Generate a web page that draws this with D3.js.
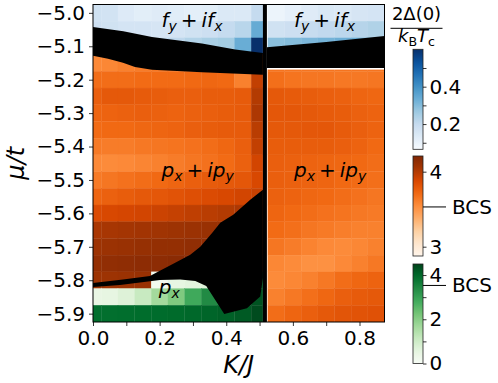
<!DOCTYPE html>
<html>
<head>
<meta charset="utf-8">
<script src="https://cdn.jsdelivr.net/npm/d3@7"></script>
<style>
  body { margin: 0; background: #fff; }
  svg { display: block; font-family: "DejaVu Sans", sans-serif; }
</style>
</head>
<body>
<svg id="chart" width="498" height="383"></svg>
<script>
'use strict';

// calculation grid
var kLeft = [0, 0.05, 0.1, 0.15, 0.2, 0.25, 0.3, 0.35, 0.4, 0.45, 0.5];
var kRight = [0.55, 0.6, 0.65, 0.7, 0.75, 0.8, 0.85];

// f_y + i f_x phase (Blues)
var fMu = [-5.0, -5.05, -5.1];
var fLeft = [
  [0.17, 0.165, 0.135, 0.12, 0.13, 0.125, 0.115, 0.12, 0.14, 0.14, 0.2],
  [0.18, 0.17, 0.16, 0.16, 0.155, 0.16, 0.17, 0.18, 0.2, 0.22, 0.34],
  [0.2, 0.2, 0.2, 0.2, 0.2, 0.21, 0.23, 0.245, 0.255, 0.335, 0.6]
];
var fRight = [
  [0.095, 0.11, 0.13, 0.145, 0.14, 0.155, 0.16],
  [0.17, 0.18, 0.195, 0.205, 0.215, 0.225, 0.235],
  [0.29, 0.3, 0.31, 0.32, 0.33, 0.335, 0.34]
];

// p_x + i p_y phase (Oranges)
var chiralMuLeft = [-5.15, -5.2, -5.25, -5.3, -5.35, -5.4, -5.45, -5.5, -5.55, -5.6, -5.65, -5.7, -5.75, -5.8];
var chiralLeft = [
  [3.56, 3.57, 3.6, 3.62, 3.64, 3.66, 3.68, 3.7, 3.72, 3.74, 3.9],
  [3.69, 3.69, 3.69, 3.7, 3.7, 3.7, 3.71, 3.72, 3.71, 3.6, 3.95],
  [3.76, 3.79, 3.79, 3.78, 3.77, 3.76, 3.76, 3.77, 3.77, 3.78, 4.0],
  [3.73, 3.74, 3.75, 3.76, 3.75, 3.74, 3.75, 3.76, 3.77, 3.78, 4.02],
  [3.7, 3.71, 3.71, 3.72, 3.73, 3.74, 3.76, 3.77, 3.78, 3.78, 3.98],
  [3.63, 3.62, 3.62, 3.64, 3.65, 3.66, 3.67, 3.69, 3.72, 3.76, 3.95],
  [3.56, 3.55, 3.56, 3.58, 3.6, 3.62, 3.65, 3.67, 3.7, 3.75, 3.9],
  [3.63, 3.65, 3.67, 3.69, 3.71, 3.73, 3.76, 3.78, 3.79, 3.8, 3.88],
  [3.73, 3.75, 3.77, 3.79, 3.8, 3.82, 3.84, 3.86, 3.88, 3.9, 3.93],
  [3.86, 3.88, 3.89, 3.9, 3.92, 3.94, 3.96, 3.98, 4.0, 4.02, 4.04],
  [4.03, 4.04, 4.05, 4.06, 4.07, 4.08, 4.09, 4.1, 4.1, 4.1, 4.1],
  [4.08, 4.09, 4.1, 4.11, 4.12, 4.12, 4.13, 4.13, 4.13, 4.13, 4.13],
  [4.12, 4.13, 4.14, 4.15, 4.15, 4.16, 4.16, 4.16, 4.16, 4.16, 4.16],
  [4.08, 4.08, 4.09, 4.1, null, null, null, null, null, null, null]
];
var chiralMuRight = [-5.15, -5.2, -5.25, -5.3, -5.35, -5.4, -5.45, -5.5, -5.55, -5.6, -5.65, -5.7, -5.75, -5.8, -5.85, -5.9];
var chiralRight = [
  [3.66, 3.66, 3.66, 3.66, 3.66, 3.66, 3.66],
  [3.68, 3.66, 3.65, 3.65, 3.64, 3.64, 3.65],
  [3.79, 3.78, 3.77, 3.76, 3.75, 3.73, 3.72],
  [3.8, 3.8, 3.79, 3.78, 3.77, 3.75, 3.74],
  [3.79, 3.79, 3.8, 3.8, 3.78, 3.76, 3.74],
  [3.77, 3.77, 3.77, 3.77, 3.76, 3.74, 3.71],
  [3.76, 3.75, 3.74, 3.73, 3.72, 3.71, 3.69],
  [3.76, 3.75, 3.74, 3.73, 3.71, 3.7, 3.68],
  [3.75, 3.74, 3.72, 3.71, 3.69, 3.67, 3.65],
  [3.73, 3.71, 3.69, 3.67, 3.66, 3.64, 3.63],
  [3.7, 3.68, 3.65, 3.63, 3.61, 3.6, 3.6],
  [3.65, 3.62, 3.59, 3.56, 3.55, 3.57, 3.6],
  [3.57, 3.55, 3.52, 3.52, 3.56, 3.6, 3.64],
  [3.55, 3.57, 3.6, 3.64, 3.69, 3.72, 3.74],
  [3.6, 3.64, 3.68, 3.72, 3.76, 3.78, 3.79],
  [3.69, 3.73, 3.76, 3.79, 3.81, 3.82, 3.83]
];

// p_x phase (Greens)
var pxMu = [-5.8, -5.85, -5.9];
var pxLeft = [
  [null, null, null, null, 0.15, 0.5, 0.6, 0.7, 1.0, 2.0, 4.3],
  [0.45, 0.5, 0.7, 1.1, 1.65, 2.1, 2.85, 3.4, 3.6, 3.8, 4.3],
  [3.9, 3.9, 3.92, 3.93, 3.95, 3.97, 4.0, 4.05, 4.1, 4.2, 4.4]
];

// black regions, [K/J, mu/t]
var bandLeft = [
  [0, -5.042], [0.091, -5.055], [0.177, -5.072], [0.327, -5.092], [0.427, -5.11], [0.51, -5.12],
  [0.51, -5.185], [0.327, -5.178], [0.177, -5.17], [0.126, -5.162], [0.09, -5.149], [0.045, -5.137], [0, -5.128]
];
var bandRight = [
  [0.522, -5.103], [0.7, -5.087], [0.875, -5.069], [0.875, -5.165], [0.522, -5.165]
];
var lowerBlob = [
  [0.51, -5.529], [0.51, -5.793], [0.502, -5.849], [0.462, -5.884], [0.394, -5.901],
  [0.367, -5.859], [0.34, -5.817], [0.307, -5.802], [0.262, -5.798], [0.201, -5.799],
  [0.141, -5.807], [0.081, -5.814], [0, -5.82], [0, -5.808], [0.09, -5.798],
  [0.171, -5.787], [0.195, -5.775], [0.241, -5.751], [0.292, -5.724], [0.322, -5.7],
  [0.358, -5.658], [0.382, -5.628], [0.421, -5.604], [0.472, -5.559]
];
var barK = [0.51, 0.522];

var bcs = 3.53;
var xTicks = [0, 0.1, 0.2, 0.3, 0.4, 0.5, 0.6, 0.7, 0.8];
var xTickLabels = ['0.0', '', '0.2', '', '0.4', '', '0.6', '', '0.8'];
var yTicks = [-5.0, -5.1, -5.2, -5.3, -5.4, -5.5, -5.6, -5.7, -5.8, -5.9];
var yTickLabels = ['\u22125.0', '\u22125.1', '\u22125.2', '\u22125.3', '\u22125.4', '\u22125.5', '\u22125.6', '\u22125.7', '\u22125.8', '\u22125.9'];
var blueTicks = [0.1, 0.2, 0.3, 0.4, 0.5];
var blueTickLabels = ['', '0.2', '', '0.4', ''];
var orangeTicks = [3, 4];
var orangeTickLabels = ['3', '4'];
var greenTicks = [0, 1, 2, 3, 4];
var greenTickLabels = ['0', '', '2', '', '4'];

var svg = d3.select('#chart');
var half = 0.025;
var fs = 20;

var x = d3.scaleLinear().domain([0, 0.875]).range([93, 384.5]);
var y = d3.scaleLinear().domain([-4.975, -5.925]).range([4.5, 322]);

var blues = d3.scaleSequential(d3.piecewise(d3.interpolateRgb, d3.schemeBlues[9])).domain([0.065, 0.6]);
var oranges = d3.scaleSequential(d3.piecewise(d3.interpolateRgb, d3.schemeOranges[9])).domain([2.876, 4.209]);
var greens = d3.scaleSequential(d3.piecewise(d3.interpolateRgb, d3.schemeGreens[9])).domain([0, 4.5]);

svg.append('clipPath').attr('id', 'plotclip')
  .append('rect')
  .attr('x', x(0)).attr('y', y(-4.975))
  .attr('width', x(0.875) - x(0)).attr('height', y(-5.925) - y(-4.975));

var plot = svg.append('g').attr('clip-path', 'url(#plotclip)');

// one rect per calculated point
var cells = [];
function addCells(ks, mus, vals, color, kMax) {
  mus.forEach(function(mu, i) {
    ks.forEach(function(k, j) {
      var v = vals[i][j];
      if (v === null) { return; }
      cells.push({
        k0: Math.max(k - half, 0), k1: Math.min(k + half, kMax),
        mu0: mu + half, mu1: mu - half, fill: color(v)
      });
    });
  });
}
addCells(kLeft, fMu, fLeft, blues, barK[0]);
addCells(kRight, fMu, fRight, blues, 0.875);
addCells(kLeft, chiralMuLeft, chiralLeft, oranges, barK[0]);
addCells(kRight, chiralMuRight, chiralRight, oranges, 0.875);
addCells(kLeft, pxMu, pxLeft, greens, barK[0]);

plot.append('g').selectAll('rect')
  .data(cells)
  .enter().append('rect')
  .attr('x', function(d) { return x(d.k0); })
  .attr('y', function(d) { return y(d.mu0); })
  .attr('width', function(d) { return x(d.k1) - x(d.k0); })
  .attr('height', function(d) { return y(d.mu1) - y(d.mu0); })
  .attr('fill', function(d) { return d.fill; })
  .attr('stroke', function(d) { return d.fill; })
  .attr('stroke-width', 0.3);

var area = d3.line()
  .x(function(d) { return x(d[0]); })
  .y(function(d) { return y(d[1]); });

plot.selectAll('path.black')
  .data([bandLeft, bandRight, lowerBlob])
  .enter().append('path')
  .attr('class', 'black')
  .attr('d', function(d) { return area(d) + 'Z'; })
  .attr('fill', '#000');

// thin white seam under the right black band
plot.append('rect')
  .attr('x', x(barK[1])).attr('y', y(-5.165))
  .attr('width', x(0.875) - x(barK[1])).attr('height', 1.6)
  .attr('fill', '#fff');

plot.append('rect')
  .attr('x', x(barK[0])).attr('y', y(-4.975))
  .attr('width', x(barK[1]) - x(barK[0])).attr('height', y(-5.925) - y(-4.975))
  .attr('fill', '#000');

// phase labels
function mathLabel(g, parts, size) {
  var sub = false;
  parts.forEach(function(p) {
    var ts = g.append('tspan').text(p[0]).style('font-style', p[1] ? 'italic' : 'normal');
    if (p[2]) {
      ts.attr('dy', size * 0.2).style('font-size', (size * 0.7) + 'px');
      sub = true;
    } else if (sub) {
      ts.attr('dy', -size * 0.2);
      sub = false;
    }
  });
}
var fParts = [['f', 1], ['y', 1, 1], ['\u2009+\u2009', 0], ['if', 1], ['x', 1, 1]];
var pParts = [['p', 1], ['x', 1, 1], ['\u2009+\u2009', 0], ['ip', 1], ['y', 1, 1]];
var labels = [
  {k: 0.297, mu: -5.042, parts: fParts},
  {k: 0.695, mu: -5.042, parts: fParts},
  {k: 0.314, mu: -5.49, parts: pParts},
  {k: 0.712, mu: -5.49, parts: pParts},
  {k: 0.229, mu: -5.841, parts: [['p', 1], ['x', 1, 1]]}
];
labels.forEach(function(l) {
  var t = svg.append('text')
    .attr('x', x(l.k)).attr('y', y(l.mu))
    .attr('text-anchor', 'middle')
    .style('font-size', fs + 'px')
    .style('white-space', 'pre');
  mathLabel(t, l.parts, fs);
});

// frame and axes
svg.append('rect')
  .attr('x', x(0)).attr('y', y(-4.975))
  .attr('width', x(0.875) - x(0)).attr('height', y(-5.925) - y(-4.975))
  .attr('fill', 'none').attr('stroke', '#000').attr('stroke-width', 1);

var xAxis = svg.append('g')
  .attr('transform', 'translate(0,' + y(-5.925) + ')')
  .call(d3.axisBottom(x).tickValues(xTicks)
    .tickFormat(function(d, i) { return xTickLabels[i]; })
    .tickSize(4).tickPadding(5));
var yAxis = svg.append('g')
  .attr('transform', 'translate(' + x(0) + ',0)')
  .call(d3.axisLeft(y).tickValues(yTicks)
    .tickFormat(function(d, i) { return yTickLabels[i]; })
    .tickSize(4).tickPadding(4));
[xAxis, yAxis].forEach(function(a) {
  a.select('.domain').remove();
  a.selectAll('text').attr('fill', '#000').style('font-size', fs + 'px').style('font-family', '"DejaVu Sans"');
  a.selectAll('line').attr('stroke', '#000').attr('stroke-width', 0.8);
});

svg.append('text')
  .attr('transform', 'translate(' + ((x(0) + x(0.875)) / 2) + ',373)')
  .attr('text-anchor', 'middle')
  .style('font-size', '24px').style('font-style', 'italic')
  .text('K/J');
svg.append('text')
  .attr('transform', 'translate(24,' + ((y(-4.975) + y(-5.925)) / 2) + ') rotate(-90)')
  .attr('text-anchor', 'middle')
  .style('font-size', '24px').style('font-style', 'italic')
  .text('\u03bc/t');

// colorbars
var cbX = 413, cbW = 10;
var bars = [
  {id: 'cbBlue', scale: blues, range: [149.3, 49.3], ticks: blueTicks, labels: blueTickLabels},
  {id: 'cbOrange', scale: oranges, range: [256, 156], ticks: orangeTicks, labels: orangeTickLabels, bcs: true},
  {id: 'cbGreen', scale: greens, range: [363.5, 264], ticks: greenTicks, labels: greenTickLabels, bcs: true}
];
var defs = svg.append('defs');
bars.forEach(function(b) {
  var dom = b.scale.domain();
  var pos = d3.scaleLinear().domain(dom).range(b.range);
  var grad = defs.append('linearGradient').attr('id', b.id)
    .attr('x1', 0).attr('y1', 1).attr('x2', 0).attr('y2', 0);
  d3.range(0, 1.0001, 0.05).forEach(function(t) {
    grad.append('stop').attr('offset', t)
      .attr('stop-color', b.scale(dom[0] + t * (dom[1] - dom[0])));
  });
  svg.append('rect')
    .attr('x', cbX).attr('y', b.range[1])
    .attr('width', cbW).attr('height', b.range[0] - b.range[1])
    .attr('fill', 'url(#' + b.id + ')')
    .attr('stroke', '#222').attr('stroke-width', 0.8);
  var ax = svg.append('g')
    .attr('transform', 'translate(' + (cbX + cbW) + ',0)')
    .call(d3.axisRight(pos).tickValues(b.ticks)
      .tickFormat(function(d, i) { return b.labels[i]; })
      .tickSize(3.5).tickPadding(3));
  ax.select('.domain').remove();
  ax.selectAll('text').attr('fill', '#000').style('font-size', fs + 'px').style('font-family', '"DejaVu Sans"');
  ax.selectAll('line').attr('stroke', '#000').attr('stroke-width', 0.8);
  if (b.bcs) {
    svg.append('line')
      .attr('x1', cbX + cbW).attr('x2', cbX + cbW + 23)
      .attr('y1', pos(bcs)).attr('y2', pos(bcs))
      .attr('stroke', '#000').attr('stroke-width', 1);
    svg.append('text')
      .attr('x', 452).attr('y', pos(bcs))
      .attr('dy', '0.35em')
      .style('font-size', fs + 'px')
      .text('BCS');
  }
});

// colorbar title 2Delta(0)/(k_B T_c)
var title = svg.append('g').attr('transform', 'translate(416.5,0)');
title.append('text').attr('y', 20).attr('text-anchor', 'middle')
  .style('font-size', '18px').text('2\u0394(0)');
title.append('line').attr('x1', -26).attr('x2', 26).attr('y1', 28.3).attr('y2', 28.3)
  .attr('stroke', '#000').attr('stroke-width', 1);
var den = title.append('text').attr('y', 42).attr('text-anchor', 'middle')
  .style('font-size', '18px');
mathLabel(den, [['k', 1], ['B', 0, 1], ['T', 1], ['c', 0, 1]], 18);
</script>
</body>
</html>
